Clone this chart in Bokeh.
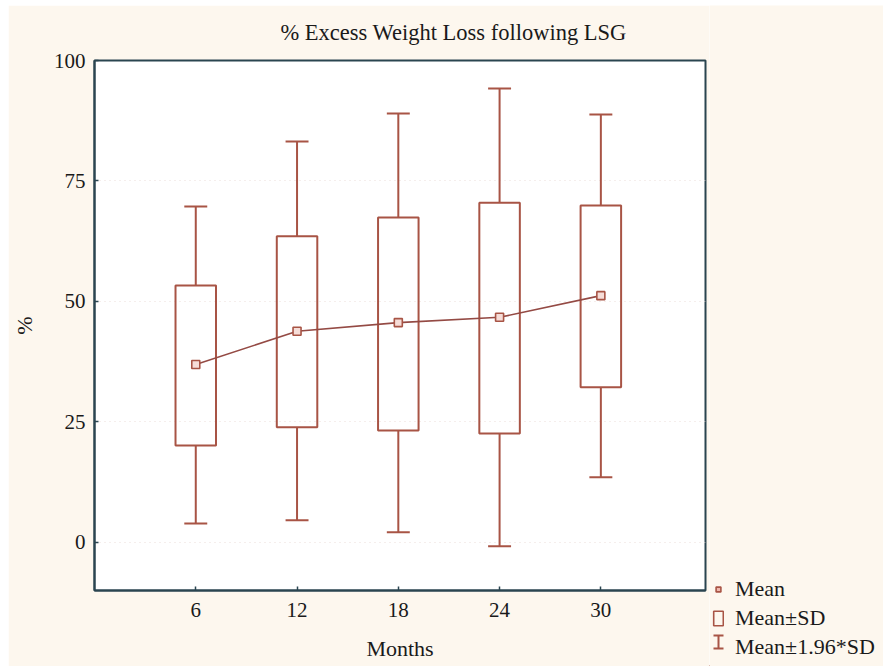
import numpy as np
from bokeh.plotting import figure
from bokeh.layouts import row
from bokeh.models import (ColumnDataSource, Range1d, FixedTicker, Legend, LegendItem,
                          Whisker, TeeHead)
from bokeh.embed import file_html
from bokeh.resources import INLINE

# ---- data ----
months = [6, 12, 18, 24, 30]
mean_ewl = [36.9, 43.8, 45.6, 46.7, 51.2]
sd_low = [20.1, 23.9, 23.2, 22.6, 32.2]
sd_high = [53.3, 63.5, 67.4, 70.5, 69.9]
ci_low = [3.9, 4.6, 2.1, -0.8, 13.5]
ci_high = [69.7, 83.2, 89.0, 94.2, 88.8]
y_ticks = [0, 25, 50, 75, 100]

title_text = "% Excess Weight Loss following LSG"
x_label = "Months"
y_label = "%"
legend_labels = ["Mean", "Mean\u00b1SD", "Mean\u00b11.96*SD"]

# ---- styles ----
FONT = "Liberation Serif"
RED = "#a85445"
LINE = "#944a44"
FRAME = "#2a4550"
CREAM = "#fdf7ee"
TEXT = "#1a1a1a"
box_width = 2.4
cap_half = 0.68

src = ColumnDataSource(dict(
    x=months, mean=mean_ewl, sdl=sd_low, sdh=sd_high, cil=ci_low, cih=ci_high,
    cap0=list(np.array(months) - cap_half), cap1=list(np.array(months) + cap_half),
))

# ================= main chart =================
p = figure(width=701, height=661, output_backend="svg", toolbar_location=None,
           x_range=Range1d(0, 36.2), y_range=Range1d(-10, 100),
           min_border_left=84, min_border_right=4, min_border_top=55,
           min_border_bottom=76)
p.margin = (5, 0, 0, 8)
p.frame_align = False

p.background_fill_color = "white"
p.border_fill_color = CREAM
p.outline_line_color = FRAME
p.outline_line_width = 2
p.outline_line_alpha = 1

p.title.text = title_text
p.title.text_font = FONT
p.title.text_font_size = "22.5px"
p.title.text_font_style = "normal"
p.title.text_color = TEXT
p.title.align = "left"
p.title.offset = 186
p.title.vertical_align = "top"
p.title.standoff = 28

# whiskers (mean +- 1.96*SD)
p.segment(x0="x", y0="sdh", x1="x", y1="cih", source=src, line_color=RED, line_width=2)
p.segment(x0="x", y0="sdl", x1="x", y1="cil", source=src, line_color=RED, line_width=2)
p.segment(x0="cap0", y0="cih", x1="cap1", y1="cih", source=src, line_color=RED, line_width=2)
p.segment(x0="cap0", y0="cil", x1="cap1", y1="cil", source=src, line_color=RED, line_width=2)

# boxes (mean +- SD)
p.vbar(x="x", top="sdh", bottom="sdl", width=box_width, source=src,
       fill_alpha=0, line_color=RED, line_width=2)

# mean line and markers
p.line(x="x", y="mean", source=src, line_color=LINE, line_width=1.6)
p.scatter(x="x", y="mean", source=src, marker="square", size=8,
          line_color=RED, line_width=1.6, fill_color="#f6ddd8")

for ax in (p.xaxis[0], p.yaxis[0]):
    ax.axis_line_color = FRAME
    ax.axis_line_width = 2
    ax.major_tick_line_color = FRAME
    ax.major_tick_line_width = 1.5
    ax.major_tick_in = 4
    ax.major_tick_out = 0
    ax.minor_tick_line_color = None
    ax.major_label_text_font = FONT
    ax.major_label_text_font_size = "21px"
    ax.major_label_text_color = TEXT
    ax.axis_label_text_font = FONT
    ax.axis_label_text_font_size = "22px"
    ax.axis_label_text_font_style = "normal"
    ax.axis_label_text_color = TEXT

p.xaxis.ticker = FixedTicker(ticks=months)
p.yaxis.ticker = FixedTicker(ticks=y_ticks)
p.xaxis.axis_label = x_label
p.yaxis.axis_label = y_label
p.xaxis.major_label_standoff = 12
p.xaxis.axis_label_standoff = 16
p.yaxis.major_label_standoff = 9
p.yaxis.axis_label_standoff = 14
p.yaxis.major_label_orientation = "horizontal"

p.xgrid.visible = False
p.ygrid.ticker = FixedTicker(ticks=y_ticks)
p.ygrid.grid_line_color = "#eadcd8"
p.ygrid.grid_line_dash = "1 4"
p.ygrid.grid_line_width = 1

# ================= legend strip =================
q = figure(width=174, height=661, output_backend="svg", toolbar_location=None,
           x_range=Range1d(100, 101), y_range=Range1d(100, 101),
           x_axis_type=None, y_axis_type=None,
           min_border_left=0, min_border_right=0, min_border_top=0, min_border_bottom=0)
q.margin = (5, 0, 0, 0)
q.frame_align = False
q.background_fill_color = CREAM
q.border_fill_color = CREAM
q.outline_line_color = None
q.grid.visible = False

# the same series drawn in the strip (outside its view) so that the legend shows their glyphs
lg_mean = q.scatter(x="x", y="mean", source=src, marker="square", size=7,
                    line_color=RED, line_width=1.6, fill_color="#f0b8ae")
lg_box = q.vbar(x="x", top="sdh", bottom="sdl", width=box_width, source=src,
                fill_alpha=0, line_color=RED, line_width=1.6)
lg_ci = q.scatter(x="x", y="cih", source=src, marker="dash", size=0,
                  line_color=RED, line_alpha=0)

legend = Legend(items=[
    LegendItem(label=legend_labels[0], renderers=[lg_mean]),
    LegendItem(label=legend_labels[1], renderers=[lg_box]),
    LegendItem(label=legend_labels[2], renderers=[lg_ci]),
], location=(3, 6))
legend.label_text_font = FONT
legend.label_text_font_size = "22px"
legend.label_text_color = TEXT
legend.glyph_width = 12
legend.glyph_height = 18
legend.label_standoff = 11
legend.spacing = 3
legend.padding = 0
legend.margin = 0
legend.border_line_alpha = 0
legend.background_fill_alpha = 0
q.add_layout(legend, "center")

# I-shaped key for the 1.96*SD item (screen units inside the strip)
key_src = ColumnDataSource(dict(b=[9], lo=[18], hi=[31]))
key = Whisker(source=key_src, base="b", lower="lo", upper="hi", dimension="height",
              base_units="screen", lower_units="screen", upper_units="screen",
              line_color=RED, line_width=2,
              upper_head=TeeHead(size=10, line_color=RED, line_width=2),
              lower_head=TeeHead(size=10, line_color=RED, line_width=2))
q.add_layout(key)

layout = row(p, q)
open("out.html", "w").write(file_html(layout, INLINE))
